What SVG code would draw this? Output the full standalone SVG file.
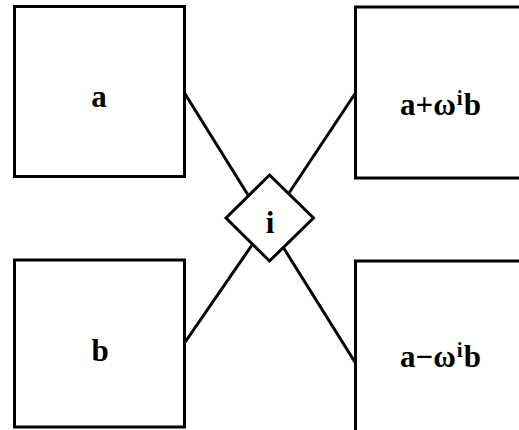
<svg xmlns="http://www.w3.org/2000/svg" width="519" height="430" viewBox="0 0 519 430">
<style>
.box{fill:#fff;stroke:#000;stroke-width:3}
.ln{stroke:#000;stroke-width:3;fill:none}
.t{font-family:'Liberation Serif','DejaVu Serif',serif;font-size:31px;font-weight:bold;fill:#000}
.s{font-size:21px}
</style>
<rect width="519" height="430" fill="#fff"/>
<g id="connectors">
<line class="ln" x1="184.5" y1="93" x2="248" y2="195"/>
<line class="ln" x1="355.5" y1="93" x2="289" y2="193"/>
<line class="ln" x1="184.5" y1="343" x2="252" y2="245"/>
<line class="ln" x1="355.5" y1="363" x2="283" y2="247"/>
</g>
<g id="node-a">
<rect class="box" x="14.5" y="6.5" width="170" height="170"/>
<text class="t" x="99" y="107" text-anchor="middle">a</text>
</g>
<g id="node-b">
<rect class="box" x="14.5" y="260" width="170" height="167"/>
<text class="t" x="100" y="361" text-anchor="middle">b</text>
</g>
<g id="node-sum">
<rect class="box" x="355.5" y="7" width="180" height="171"/>
<text class="t" x="400" y="115">a+ω<tspan class="s" dx="1" dy="-10">i</tspan><tspan dx="1" dy="10">b</tspan></text>
</g>
<g id="node-diff">
<rect class="box" x="355.5" y="261" width="180" height="180"/>
<text class="t" x="400" y="367">a−ω<tspan class="s" dx="1" dy="-10">i</tspan><tspan dx="1" dy="10">b</tspan></text>
</g>
<g id="node-i">
<polygon class="box" points="269.5,175 313.5,218 269.5,261 226,218"/>
<text class="t" x="270" y="233" text-anchor="middle">i</text>
</g>
</svg>
